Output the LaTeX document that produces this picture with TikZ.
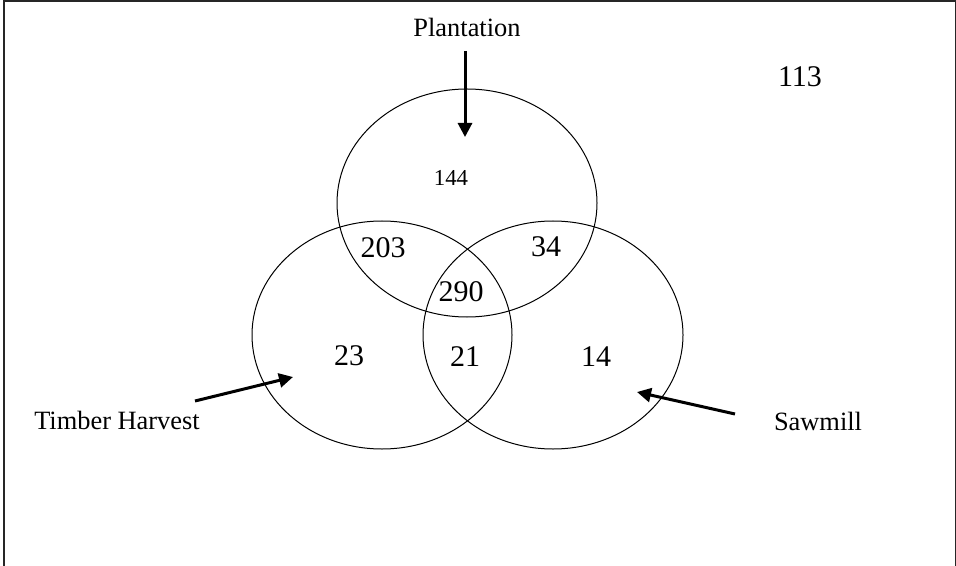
\documentclass[tikz,border=0pt]{standalone}
\usepackage{fontspec}
\setmainfont{Liberation Serif}
\usetikzlibrary{shapes.geometric,arrows.meta,positioning}
\tikzset{
  setring/.style={ellipse,draw=black,line width=0.5pt,minimum width=130pt,minimum height=114pt,inner sep=0pt},
  lbl/.style={font=\fontsize{13.2}{15}\selectfont,inner sep=0pt},
  num/.style={font=\fontsize{15}{17}\selectfont,inner sep=0pt},
  smallnum/.style={font=\fontsize{11.4}{13}\selectfont,inner sep=0pt},
  pointer/.style={line width=1.5pt,-{Triangle[length=7pt,width=7pt]}},
  frame/.style={line width=1pt,draw=black!85}
}
\begin{document}
\begin{tikzpicture}[x=0.5pt,y=-0.5pt]
  \useasboundingbox (0,0) rectangle (956,566);
  \draw [frame] (3.5,566) -- (3.5,1.5) -- (955.5,1.5) -- (955.5,566);

  % the three sets
  \node [setring] (plant) at (467,203) {};
  \node [setring] (timber) at (382,335) {};
  \node [setring] (saw) at (553,335) {};

  % counts
  \node [smallnum] (n144) at (451,178) {144};
  \node [num] (n203) at (383,248) {203};
  \node [num] (n34) at (546,247) {34};
  \node [num] (n290) at (461,292) {290};
  \node [num] (n23) at (349,356) {23};
  \node [num] (n21) at (465,357) {21};
  \node [num] (n14) at (596,357) {14};
  \node [num] (n113) at (800,77) {113};

  % labels and pointers
  \node [lbl] (plantlbl) at (467,27) {Plantation};
  \node [lbl] (timberlbl) at (117,420) {Timber Harvest};
  \node [lbl] (sawlbl) at (818,421) {Sawmill};

  \coordinate (ptail) at (465,51);
  \coordinate (ptip) at (465,137);
  \coordinate (ttail) at (195,401);
  \coordinate (ttip) at (293,377);
  \coordinate (stail) at (735,414);
  \coordinate (stip) at (637,392);

  \draw [pointer] (ptail) -- (ptip);
  \draw [pointer] (ttail) -- (ttip);
  \draw [pointer] (stail) -- (stip);
\end{tikzpicture}
\end{document}
